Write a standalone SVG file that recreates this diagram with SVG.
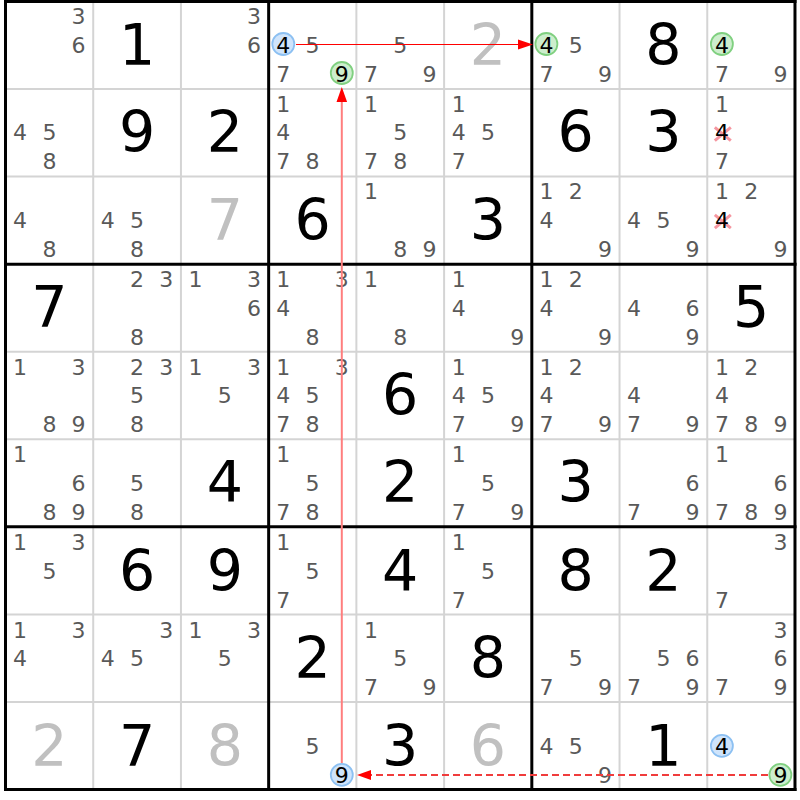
<svg xmlns="http://www.w3.org/2000/svg" width="800" height="800" viewBox="0 0 800 800">
<style>
text{font-family:"DejaVu Sans","Noto Sans",sans-serif;text-anchor:middle}
.c{font-size:22px;fill:#595959}
.k{font-size:22px;fill:#000}
.g{font-size:57px;fill:#000}
.p{font-size:57px;fill:#c0c0c0}
.thin{stroke:#d4d4d4;stroke-width:2}
.thick{stroke:#000;stroke-width:3}
.hb{fill:#cfe4fb;stroke:#8cc0f2;stroke-width:1.8}
.hg{fill:#cdeecd;stroke:#80d080;stroke-width:1.8}
.x{stroke:#f596a0;stroke-width:3;stroke-linecap:butt}
</style>
<rect x="0" y="0" width="800" height="800" fill="#fff"/>
<g id="grid">
<line class="thin" x1="93.22" y1="1.5" x2="93.22" y2="789.54"/>
<line class="thin" x1="180.94" y1="1.5" x2="180.94" y2="789.54"/>
<line class="thin" x1="356.38" y1="1.5" x2="356.38" y2="789.54"/>
<line class="thin" x1="444.1" y1="1.5" x2="444.1" y2="789.54"/>
<line class="thin" x1="619.54" y1="1.5" x2="619.54" y2="789.54"/>
<line class="thin" x1="707.26" y1="1.5" x2="707.26" y2="789.54"/>
<line class="thin" x1="5.5" y1="89.06" x2="794.98" y2="89.06"/>
<line class="thin" x1="5.5" y1="176.62" x2="794.98" y2="176.62"/>
<line class="thin" x1="5.5" y1="351.74" x2="794.98" y2="351.74"/>
<line class="thin" x1="5.5" y1="439.3" x2="794.98" y2="439.3"/>
<line class="thin" x1="5.5" y1="614.42" x2="794.98" y2="614.42"/>
<line class="thin" x1="5.5" y1="701.98" x2="794.98" y2="701.98"/>
<line class="thick" x1="5.5" y1="0" x2="5.5" y2="791"/>
<line class="thick" x1="268.66" y1="0" x2="268.66" y2="791"/>
<line class="thick" x1="531.82" y1="0" x2="531.82" y2="791"/>
<line class="thick" x1="794.98" y1="0" x2="794.98" y2="791"/>
<line class="thick" x1="4" y1="1.5" x2="796.5" y2="1.5"/>
<line class="thick" x1="4" y1="264.18" x2="796.5" y2="264.18"/>
<line class="thick" x1="4" y1="526.86" x2="796.5" y2="526.86"/>
<line class="thick" x1="4" y1="789.54" x2="796.5" y2="789.54"/>
</g>
<g id="r0c0"><text class="c" x="78.6" y="24">3</text><text class="c" x="78.6" y="52.5">6</text></g>
<g id="r0c1"><text class="g" x="137.08" y="64.5">1</text></g>
<g id="r0c2"><text class="c" x="254" y="24">3</text><text class="c" x="254" y="52.5">6</text></g>
<g id="r0c3"><circle class="hb" cx="283.3" cy="44" r="11"/><circle class="hg" cx="341.8" cy="73" r="11"/><text class="k" x="283.3" y="52.5">4</text><text class="c" x="312.6" y="52.5">5</text><text class="c" x="283.3" y="81.5">7</text><text class="k" x="341.8" y="81.5">9</text></g>
<g id="r0c4"><text class="c" x="400.3" y="52.5">5</text><text class="c" x="371" y="81.5">7</text><text class="c" x="429.5" y="81.5">9</text></g>
<g id="r0c5"><text class="p" x="487.96" y="64.5">2</text></g>
<g id="r0c6"><circle class="hg" cx="546.4" cy="44" r="11"/><text class="k" x="546.4" y="52.5">4</text><text class="c" x="575.7" y="52.5">5</text><text class="c" x="546.4" y="81.5">7</text><text class="c" x="604.9" y="81.5">9</text></g>
<g id="r0c7"><text class="g" x="663.4" y="64.5">8</text></g>
<g id="r0c8"><circle class="hg" cx="721.9" cy="44" r="11"/><text class="k" x="721.9" y="52.5">4</text><text class="c" x="721.9" y="81.5">7</text><text class="c" x="780.4" y="81.5">9</text></g>

<g id="r1c0"><text class="c" x="20.1" y="140.1">4</text><text class="c" x="49.4" y="140.1">5</text><text class="c" x="49.4" y="169.1">8</text></g>
<g id="r1c1"><text class="g" x="137.08" y="152.1">9</text></g>
<g id="r1c2"><text class="g" x="224.8" y="152.1">2</text></g>
<g id="r1c3"><text class="c" x="283.3" y="111.6">1</text><text class="c" x="283.3" y="140.1">4</text><text class="c" x="283.3" y="169.1">7</text><text class="c" x="312.6" y="169.1">8</text></g>
<g id="r1c4"><text class="c" x="371" y="111.6">1</text><text class="c" x="400.3" y="140.1">5</text><text class="c" x="371" y="169.1">7</text><text class="c" x="400.3" y="169.1">8</text></g>
<g id="r1c5"><text class="c" x="458.7" y="111.6">1</text><text class="c" x="458.7" y="140.1">4</text><text class="c" x="488" y="140.1">5</text><text class="c" x="458.7" y="169.1">7</text></g>
<g id="r1c6"><text class="g" x="575.68" y="152.1">6</text></g>
<g id="r1c7"><text class="g" x="663.4" y="152.1">3</text></g>
<g id="r1c8"><text class="c" x="721.9" y="111.6">1</text><line class="x" x1="714.8" y1="127.3" x2="730.8" y2="140.7"/><line class="x" x1="730.8" y1="127.3" x2="714.8" y2="140.7"/><text class="k" x="721.9" y="140.1">4</text><text class="c" x="721.9" y="169.1">7</text></g>

<g id="r2c0"><text class="c" x="20.1" y="227.6">4</text><text class="c" x="49.4" y="256.6">8</text></g>
<g id="r2c1"><text class="c" x="107.8" y="227.6">4</text><text class="c" x="137.1" y="227.6">5</text><text class="c" x="137.1" y="256.6">8</text></g>
<g id="r2c2"><text class="p" x="224.8" y="239.6">7</text></g>
<g id="r2c3"><text class="g" x="312.52" y="239.6">6</text></g>
<g id="r2c4"><text class="c" x="371" y="199.1">1</text><text class="c" x="400.3" y="256.6">8</text><text class="c" x="429.5" y="256.6">9</text></g>
<g id="r2c5"><text class="g" x="487.96" y="239.6">3</text></g>
<g id="r2c6"><text class="c" x="546.4" y="199.1">1</text><text class="c" x="575.7" y="199.1">2</text><text class="c" x="546.4" y="227.6">4</text><text class="c" x="604.9" y="256.6">9</text></g>
<g id="r2c7"><text class="c" x="634.1" y="227.6">4</text><text class="c" x="663.4" y="227.6">5</text><text class="c" x="692.6" y="256.6">9</text></g>
<g id="r2c8"><text class="c" x="721.9" y="199.1">1</text><text class="c" x="751.2" y="199.1">2</text><line class="x" x1="714.8" y1="214.8" x2="730.8" y2="228.2"/><line class="x" x1="730.8" y1="214.8" x2="714.8" y2="228.2"/><text class="k" x="721.9" y="227.6">4</text><text class="c" x="780.4" y="256.6">9</text></g>

<g id="r3c0"><text class="g" x="49.36" y="327.2">7</text></g>
<g id="r3c1"><text class="c" x="137.1" y="287">2</text><text class="c" x="166.3" y="287">3</text><text class="c" x="137.1" y="344.5">8</text></g>
<g id="r3c2"><text class="c" x="195.5" y="287">1</text><text class="c" x="254" y="287">3</text><text class="c" x="254" y="315.5">6</text></g>
<g id="r3c3"><text class="c" x="283.3" y="287">1</text><text class="c" x="341.8" y="287">3</text><text class="c" x="283.3" y="315.5">4</text><text class="c" x="312.6" y="344.5">8</text></g>
<g id="r3c4"><text class="c" x="371" y="287">1</text><text class="c" x="400.3" y="344.5">8</text></g>
<g id="r3c5"><text class="c" x="458.7" y="287">1</text><text class="c" x="458.7" y="315.5">4</text><text class="c" x="517.2" y="344.5">9</text></g>
<g id="r3c6"><text class="c" x="546.4" y="287">1</text><text class="c" x="575.7" y="287">2</text><text class="c" x="546.4" y="315.5">4</text><text class="c" x="604.9" y="344.5">9</text></g>
<g id="r3c7"><text class="c" x="634.1" y="315.5">4</text><text class="c" x="692.6" y="315.5">6</text><text class="c" x="692.6" y="344.5">9</text></g>
<g id="r3c8"><text class="g" x="751.12" y="327.2">5</text></g>

<g id="r4c0"><text class="c" x="20.1" y="374.5">1</text><text class="c" x="78.6" y="374.5">3</text><text class="c" x="49.4" y="432">8</text><text class="c" x="78.6" y="432">9</text></g>
<g id="r4c1"><text class="c" x="137.1" y="374.5">2</text><text class="c" x="166.3" y="374.5">3</text><text class="c" x="137.1" y="403">5</text><text class="c" x="137.1" y="432">8</text></g>
<g id="r4c2"><text class="c" x="195.5" y="374.5">1</text><text class="c" x="254" y="374.5">3</text><text class="c" x="224.8" y="403">5</text></g>
<g id="r4c3"><text class="c" x="283.3" y="374.5">1</text><text class="c" x="341.8" y="374.5">3</text><text class="c" x="283.3" y="403">4</text><text class="c" x="312.6" y="403">5</text><text class="c" x="283.3" y="432">7</text><text class="c" x="312.6" y="432">8</text></g>
<g id="r4c4"><text class="g" x="400.24" y="414.7">6</text></g>
<g id="r4c5"><text class="c" x="458.7" y="374.5">1</text><text class="c" x="458.7" y="403">4</text><text class="c" x="488" y="403">5</text><text class="c" x="458.7" y="432">7</text><text class="c" x="517.2" y="432">9</text></g>
<g id="r4c6"><text class="c" x="546.4" y="374.5">1</text><text class="c" x="575.7" y="374.5">2</text><text class="c" x="546.4" y="403">4</text><text class="c" x="546.4" y="432">7</text><text class="c" x="604.9" y="432">9</text></g>
<g id="r4c7"><text class="c" x="634.1" y="403">4</text><text class="c" x="634.1" y="432">7</text><text class="c" x="692.6" y="432">9</text></g>
<g id="r4c8"><text class="c" x="721.9" y="374.5">1</text><text class="c" x="751.2" y="374.5">2</text><text class="c" x="721.9" y="403">4</text><text class="c" x="721.9" y="432">7</text><text class="c" x="751.2" y="432">8</text><text class="c" x="780.4" y="432">9</text></g>

<g id="r5c0"><text class="c" x="20.1" y="462.3">1</text><text class="c" x="78.6" y="490.8">6</text><text class="c" x="49.4" y="519.8">8</text><text class="c" x="78.6" y="519.8">9</text></g>
<g id="r5c1"><text class="c" x="137.1" y="490.8">5</text><text class="c" x="137.1" y="519.8">8</text></g>
<g id="r5c2"><text class="g" x="224.8" y="502.3">4</text></g>
<g id="r5c3"><text class="c" x="283.3" y="462.3">1</text><text class="c" x="312.6" y="490.8">5</text><text class="c" x="283.3" y="519.8">7</text><text class="c" x="312.6" y="519.8">8</text></g>
<g id="r5c4"><text class="g" x="400.24" y="502.3">2</text></g>
<g id="r5c5"><text class="c" x="458.7" y="462.3">1</text><text class="c" x="488" y="490.8">5</text><text class="c" x="458.7" y="519.8">7</text><text class="c" x="517.2" y="519.8">9</text></g>
<g id="r5c6"><text class="g" x="575.68" y="502.3">3</text></g>
<g id="r5c7"><text class="c" x="692.6" y="490.8">6</text><text class="c" x="634.1" y="519.8">7</text><text class="c" x="692.6" y="519.8">9</text></g>
<g id="r5c8"><text class="c" x="721.9" y="462.3">1</text><text class="c" x="780.4" y="490.8">6</text><text class="c" x="721.9" y="519.8">7</text><text class="c" x="751.2" y="519.8">8</text><text class="c" x="780.4" y="519.8">9</text></g>

<g id="r6c0"><text class="c" x="20.1" y="550.2">1</text><text class="c" x="78.6" y="550.2">3</text><text class="c" x="49.4" y="578.7">5</text></g>
<g id="r6c1"><text class="g" x="137.08" y="590.9">6</text></g>
<g id="r6c2"><text class="g" x="224.8" y="590.9">9</text></g>
<g id="r6c3"><text class="c" x="283.3" y="550.2">1</text><text class="c" x="312.6" y="578.7">5</text><text class="c" x="283.3" y="607.7">7</text></g>
<g id="r6c4"><text class="g" x="400.24" y="590.9">4</text></g>
<g id="r6c5"><text class="c" x="458.7" y="550.2">1</text><text class="c" x="488" y="578.7">5</text><text class="c" x="458.7" y="607.7">7</text></g>
<g id="r6c6"><text class="g" x="575.68" y="590.9">8</text></g>
<g id="r6c7"><text class="g" x="663.4" y="590.9">2</text></g>
<g id="r6c8"><text class="c" x="780.4" y="550.2">3</text><text class="c" x="721.9" y="607.7">7</text></g>

<g id="r7c0"><text class="c" x="20.1" y="637.9">1</text><text class="c" x="78.6" y="637.9">3</text><text class="c" x="20.1" y="666.4">4</text></g>
<g id="r7c1"><text class="c" x="166.3" y="637.9">3</text><text class="c" x="107.8" y="666.4">4</text><text class="c" x="137.1" y="666.4">5</text></g>
<g id="r7c2"><text class="c" x="195.5" y="637.9">1</text><text class="c" x="254" y="637.9">3</text><text class="c" x="224.8" y="666.4">5</text></g>
<g id="r7c3"><text class="g" x="312.52" y="678.4">2</text></g>
<g id="r7c4"><text class="c" x="371" y="637.9">1</text><text class="c" x="400.3" y="666.4">5</text><text class="c" x="371" y="695.4">7</text><text class="c" x="429.5" y="695.4">9</text></g>
<g id="r7c5"><text class="g" x="487.96" y="678.4">8</text></g>
<g id="r7c6"><text class="c" x="575.7" y="666.4">5</text><text class="c" x="546.4" y="695.4">7</text><text class="c" x="604.9" y="695.4">9</text></g>
<g id="r7c7"><text class="c" x="663.4" y="666.4">5</text><text class="c" x="692.6" y="666.4">6</text><text class="c" x="634.1" y="695.4">7</text><text class="c" x="692.6" y="695.4">9</text></g>
<g id="r7c8"><text class="c" x="780.4" y="637.9">3</text><text class="c" x="780.4" y="666.4">6</text><text class="c" x="721.9" y="695.4">7</text><text class="c" x="780.4" y="695.4">9</text></g>

<g id="r8c0"><text class="p" x="49.36" y="766">2</text></g>
<g id="r8c1"><text class="g" x="137.08" y="766">7</text></g>
<g id="r8c2"><text class="p" x="224.8" y="766">8</text></g>
<g id="r8c3"><circle class="hb" cx="341.8" cy="774.8" r="11"/><text class="c" x="312.6" y="754.3">5</text><text class="k" x="341.8" y="783.3">9</text></g>
<g id="r8c4"><text class="g" x="400.24" y="766">3</text></g>
<g id="r8c5"><text class="p" x="487.96" y="766">6</text></g>
<g id="r8c6"><text class="c" x="546.4" y="754.3">4</text><text class="c" x="575.7" y="754.3">5</text><text class="c" x="604.9" y="783.3">9</text></g>
<g id="r8c7"><text class="g" x="663.4" y="766">1</text></g>
<g id="r8c8"><circle class="hb" cx="721.9" cy="745.8" r="11"/><circle class="hg" cx="780.4" cy="774.8" r="11"/><text class="k" x="721.9" y="754.3">4</text><text class="k" x="780.4" y="783.3">9</text></g>

<g id="connectors">
<line x1="296" y1="44.5" x2="520" y2="44.5" stroke="#f00" stroke-width="1"/>
<polygon points="533,44.5 518,39.5 518,49.5" fill="#f00"/>
<line x1="341.8" y1="763" x2="341.8" y2="100" stroke="#ff7e7e" stroke-width="2"/>
<polygon points="341.8,87 336.5,102 347.1,102" fill="#f00"/>
<line x1="768" y1="775" x2="370" y2="775" stroke="#f03c3c" stroke-width="2" stroke-dasharray="7 4"/>
<polygon points="357,775 371,770 371,780" fill="#f00"/>
</g>
</svg>
